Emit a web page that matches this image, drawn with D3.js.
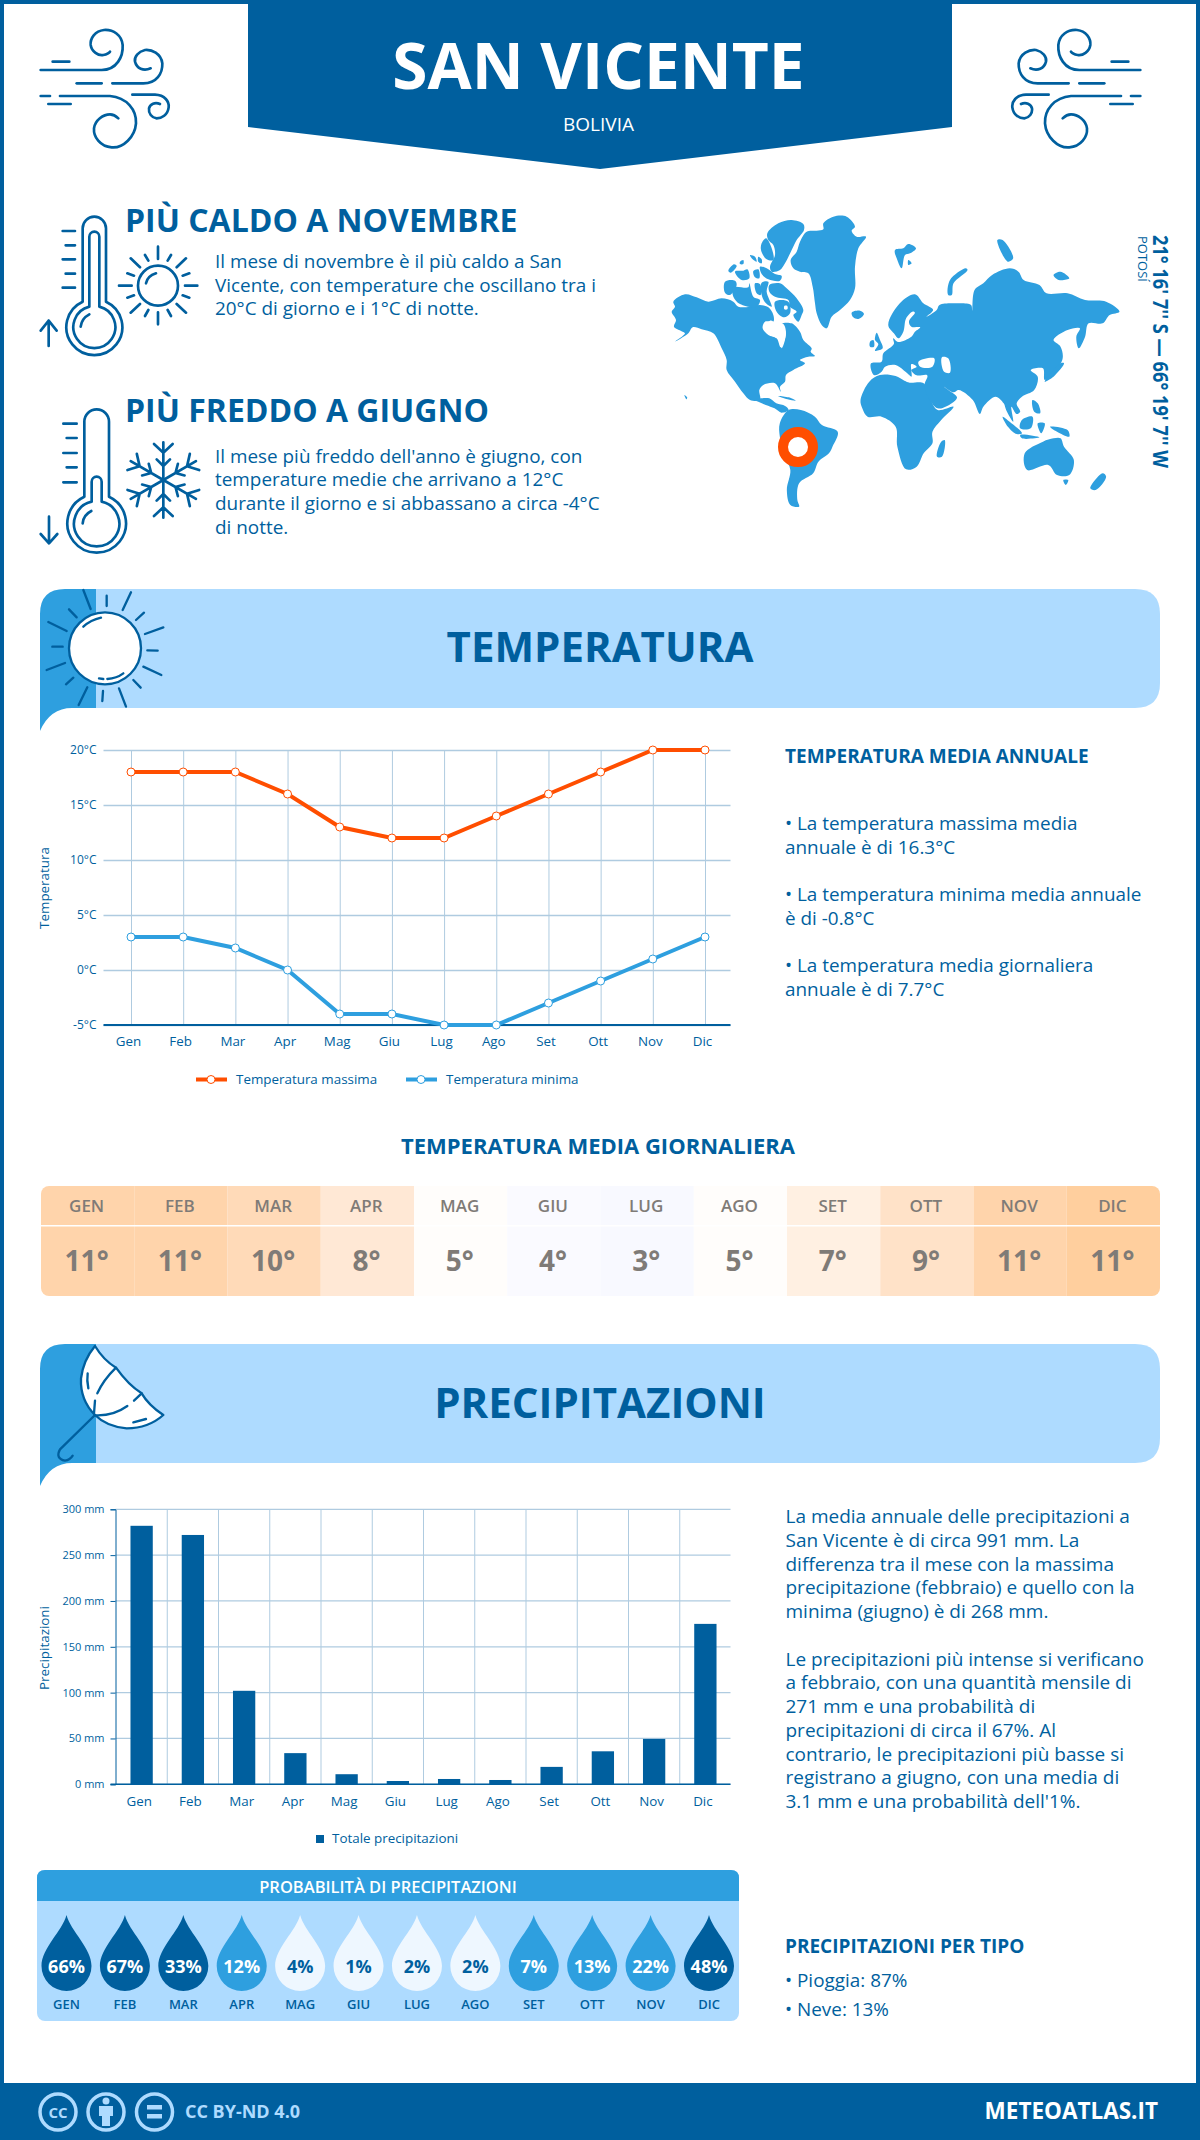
<!DOCTYPE html>
<html>
<head>
<meta charset="utf-8">
<script src="https://cdn.jsdelivr.net/npm/d3@7"></script>
<style>
  body { margin: 0; background: #fff; }
  text { font-family: "Open Sans", sans-serif; }
</style>
</head>
<body>
<div id="chart"></div>
<script>
var months = ["Gen", "Feb", "Mar", "Apr", "Mag", "Giu", "Lug", "Ago", "Set", "Ott", "Nov", "Dic"];
var tempMax = [18, 18, 18, 16, 13, 12, 12, 14, 16, 18, 20, 20];
var tempMin = [3, 3, 2, 0, -4, -4, -5, -5, -3, -1, 1, 3];
var tempTicks = [-5, 0, 5, 10, 15, 20];
var dailyLabels = [11, 11, 10, 8, 5, 4, 3, 5, 7, 9, 11, 11];
var rainTotal = [282, 272, 102, 34, 11, 3.6, 5.8, 4.7, 19, 36, 49.5, 175];
var rainTicks = [0, 50, 100, 150, 200, 250, 300];
var rainProb = [66, 67, 33, 12, 4, 1, 2, 2, 7, 13, 22, 48];

var hotText = ["Il mese di novembre è il più caldo a San", "Vicente, con temperature che oscillano tra i", "20°C di giorno e i 1°C di notte."];
var coldText = ["Il mese più freddo dell'anno è giugno, con", "temperature medie che arrivano a 12°C", "durante il giorno e si abbassano a circa -4°C", "di notte."];
var tempNotes = [
  ["• La temperatura massima media", "annuale è di 16.3°C"],
  ["• La temperatura minima media annuale", "è di -0.8°C"],
  ["• La temperatura media giornaliera", "annuale è di 7.7°C"]
];
var rainNotes = [
  "La media annuale delle precipitazioni a", "San Vicente è di circa 991 mm. La", "differenza tra il mese con la massima",
  "precipitazione (febbraio) e quello con la", "minima (giugno) è di 268 mm.", "",
  "Le precipitazioni più intense si verificano", "a febbraio, con una quantità mensile di", "271 mm e una probabilità di",
  "precipitazioni di circa il 67%. Al", "contrario, le precipitazioni più basse si", "registrano a giugno, con una media di",
  "3.1 mm e una probabilità dell'1%."
];

// colours
var deep = "#005f9e", mid = "#2e9fdf", light = "#aedbff", orange = "#ff4e00", grid = "#afcbe0";

var svg = d3.select("#chart").append("svg")
  .attr("width", 1200)
  .attr("height", 2140)
  .style("display", "block");

function label(parent, x, y, str, size, weight, fill, anchor) {
  return parent.append("text")
    .attr("x", x).attr("y", y)
    .attr("font-size", size)
    .attr("font-weight", weight || 400)
    .attr("fill", fill || deep)
    .attr("text-anchor", anchor || "start")
    .text(str);
}

function lines(parent, x, y, rows, size, step) {
  rows.forEach((r, i) => label(parent, x, y + i * step, r, size));
}

function icon(tx, ty, sx, sy) {
  return svg.append("g")
    .attr("transform", `translate(${tx},${ty}) scale(${sx},${sy === undefined ? sx : sy})`)
    .attr("fill", "none")
    .attr("stroke", deep)
    .attr("stroke-linecap", "round")
    .attr("stroke-linejoin", "round");
}

// ---- frame and header ----
svg.append("rect").attr("x", 2).attr("y", 2).attr("width", 1196).attr("height", 2136)
  .attr("fill", "none").attr("stroke", deep).attr("stroke-width", 4);
svg.append("path").attr("d", "M248,0H952V127L600,169L248,127Z").attr("fill", deep);
label(svg, 598.5, 89, "SAN VICENTE", 64, 700, "#fff", "middle");
label(svg, 598.5, 131, "BOLIVIA", 19, 400, "#fff", "middle");

function wind(g) {
  g.attr("stroke-width", 8);
  ["M68,125H118",
   "M32,150H215C260,150 280,110 278,75C275,45 250,28 222,30C195,33 180,55 182,75C185,95 205,108 220,105C230,103 238,98 240,95",
   "M140,190H215",
   "M247,190H340C380,190 398,160 397,130C393,100 365,88 345,90C325,95 312,110 315,125C320,145 340,155 362,145",
   "M32,228H60",
   "M90,228H240C290,232 320,270 318,310C315,350 280,385 245,382C210,380 190,350 192,325C195,300 220,283 240,283C250,283 260,290 265,295",
   "M55,252H122",
   "M307,224H375C405,225 418,245 416,262C413,285 395,295 380,295C365,293 355,280 357,265C360,252 375,245 390,252"
  ].forEach(d => g.append("path").attr("d", d));
}
wind(icon(30, 20, 1 / 3));
wind(icon(1151, 20, -1 / 3, 1 / 3));

// ---- hot and cold blocks ----
label(svg, 125, 232, "PIÙ CALDO A NOVEMBRE", 32, 700);
lines(svg, 215, 268, hotText, 18.9, 23.7);
label(svg, 125, 422, "PIÙ FREDDO A GIUGNO", 32, 700);
lines(svg, 215, 462.5, coldText, 18.9, 23.7);

var ic = icon(20, 190, 1 / 3).attr("stroke-width", 8);
["M188,335V115A35,35 0 0 1 258,115V335A84,84 0 1 1 188,335",
 "M208,350V140A15,15 0 0 1 238,140V350A63,63 0 1 1 208,350",
 "M182,410Q185,385 208,373",
 "M128,123H165M137,166H165M128,208H165M137,251H165M128,293H165",
 "M86,468V392M62,422L86,392L110,422",
 "M414,170V207M414,367V403M495,287H532M297,287H335M332,205L360,232M498,205L470,232M332,368L360,342M498,368L470,342",
 "M375,195L385,212M453,195L443,212M375,378L385,360M453,378L443,360M322,250L342,257M508,250L488,257M322,323L342,316M508,323L488,316",
 "M378,280Q382,258 408,250",
 "M193,920V695A37,37 0 0 1 267,695V920A88,88 0 1 1 193,920",
 "M215,935V875A15,15 0 0 1 245,875V935A68,68 0 1 1 215,935",
 "M188,1000Q190,975 214,963",
 "M130,701H170M140,744H170M130,789H170M140,832H170M130,877H170",
 "M87,980V1060M62,1032L87,1060L112,1032"
].forEach(d => ic.append("path").attr("d", d));
ic.append("circle").attr("cx", 414).attr("cy", 287).attr("r", 60);
d3.range(6).forEach(i => {
  ic.append("path")
    .attr("transform", `translate(430,870) rotate(${i * 60})`)
    .attr("d", "M0,0V-113M-28,-108L0,-82L28,-108M-20,-62L0,-42L20,-62");
});

// ---- world map, traced outlines ----
// north part traced at 3x from (660,200)
var mapNorth = [
  [[35,335],[45,320],[40,305],[75,283],[110,292],[145,305],[185,295],[220,305],[235,320],[270,320],[300,315],[325,322],[340,345],[340,365],[315,365],[308,385],[325,405],[350,415],[362,442],[372,425],[377,395],[365,372],[395,370],[420,395],[430,420],[455,445],[452,455],[465,468],[445,470],[420,480],[435,490],[400,510],[378,525],[375,545],[360,560],[362,575],[345,550],[310,555],[298,570],[300,600],[270,600],[250,580],[225,545],[200,510],[200,480],[185,445],[160,400],[125,388],[98,382],[85,400],[45,425],[75,400],[62,392],[42,380],[48,360]],
  [[322,100],[355,70],[395,60],[430,72],[432,90],[410,120],[395,150],[375,190],[360,210],[335,215],[330,200],[345,165],[340,135],[325,120]],
  [[305,130],[318,115],[335,145],[340,180],[320,178],[303,150]],
  [[205,212],[222,193],[230,198],[212,218]],
  [[240,185],[250,180],[250,192],[240,192]],
  [[225,215],[250,212],[262,208],[268,235],[245,240]],
  [[270,165],[285,170],[290,185],[278,178]],
  [[295,170],[305,178],[305,190],[295,185]],
  [[280,213],[295,208],[298,235],[285,232]],
  [[300,200],[320,205],[345,222],[365,228],[360,242],[325,238],[305,222]],
  [[195,245],[225,242],[230,255],[210,285],[195,278]],
  [[220,262],[265,262],[268,250],[280,290],[300,300],[290,320],[240,312],[220,290]],
  [[285,250],[300,252],[302,285],[290,280]],
  [[305,248],[325,245],[320,275],[335,320],[318,310],[305,285]],
  [[328,255],[360,250],[380,265],[410,295],[430,330],[425,345],[415,365],[400,345],[410,335],[390,320],[385,300],[345,290],[328,275]],
  [[345,305],[385,305],[390,340],[372,352],[350,335]],
  [[392,180],[410,155],[420,125],[440,95],[470,92],[490,88],[490,70],[520,50],[560,50],[585,80],[575,92],[590,110],[618,110],[595,145],[585,200],[585,265],[570,300],[540,330],[515,350],[500,385],[485,375],[470,340],[465,310],[458,260],[445,220],[420,215],[400,205]],
  [[575,338],[600,332],[612,342],[595,357],[580,352]],
  [[705,150],[730,145],[745,132],[768,145],[750,160],[735,165],[725,205],[712,180]],
  [[745,180],[755,190],[745,195]],
  [[650,398],[660,420],[668,445],[645,452],[655,432],[645,420]],
  [[630,425],[640,420],[642,440],[630,440]]
];
var mapNorthWater = [
  [[310,385],[330,362],[350,370],[370,372],[378,400],[365,445],[358,420],[330,405]],
  [[373,318],[382,318],[382,328],[373,328]]
];
// the rest is traced from (650,190), 2.85x wide and 3x high
var mapSouth = [
  [[285,628],[313,626],[318,625],[340,625],[360,640],[385,648],[395,660],[375,668],[355,655],[330,645],[295,630]],
  [[365,618],[395,622],[415,632],[392,628]],
  [[98,615],[106,622],[104,628]],
  [[370,700],[395,660],[430,660],[470,680],[490,705],[535,725],[520,770],[510,790],[480,815],[465,850],[425,880],[420,930],[425,950],[400,945],[390,900],[400,840],[385,800],[370,740]],
  [[600,630],[625,575],[655,555],[700,558],[725,572],[740,578],[780,580],[800,630],[820,660],[865,650],[830,690],[805,725],[805,760],[780,790],[760,830],[730,838],[705,770],[700,710],[660,680],[620,680],[605,655]],
  [[632,545],[630,520],[660,515],[665,490],[695,462],[693,445],[707,456],[745,440],[755,425],[770,412],[745,410],[738,395],[755,368],[748,365],[730,385],[722,425],[708,445],[695,430],[679,405],[712,340],[755,313],[779,340],[807,360],[788,380],[817,360],[825,345],[870,340],[915,345],[918,362],[925,300],[950,280],[975,255],[1025,235],[1050,245],[1065,270],[1110,285],[1130,310],[1190,310],[1240,330],[1300,335],[1338,365],[1310,375],[1290,400],[1250,400],[1240,440],[1222,475],[1215,440],[1225,415],[1190,420],[1150,450],[1170,470],[1175,510],[1125,570],[1120,535],[1085,540],[1105,560],[1095,600],[1060,620],[1045,640],[1055,665],[1045,672],[1030,650],[1035,695],[1015,660],[1008,640],[985,620],[950,650],[940,672],[920,630],[880,600],[865,607],[838,590],[850,600],[875,622],[860,640],[820,655],[782,590],[790,556],[760,556],[745,540],[760,530],[745,522],[745,560],[725,535],[705,508],[740,555],[700,525],[670,530],[660,545],[640,556]],
  [[1125,575],[1170,520],[1180,520],[1150,560]],
  [[1005,680],[1025,695],[1060,730],[1045,732],[1020,710]],
  [[1060,690],[1090,680],[1085,715],[1055,715]],
  [[1055,735],[1110,742],[1060,745]],
  [[1105,700],[1125,700],[1115,730]],
  [[1140,710],[1190,720],[1195,740],[1160,725]],
  [[1090,630],[1105,640],[1112,670],[1095,665]],
  [[1068,790],[1120,755],[1150,745],[1170,745],[1180,770],[1208,810],[1195,855],[1160,855],[1135,825],[1075,840]],
  [[830,755],[840,750],[832,800],[818,800]],
  [[1290,850],[1300,860],[1270,900],[1255,895]],
  [[1178,870],[1192,870],[1185,885]],
  [[850,315],[855,270],[900,235],[905,240],[865,280],[860,315]],
  [[990,150],[1005,150],[1035,205],[1020,215]],
  [[1150,255],[1170,245],[1195,265],[1165,270]]
];
var mapSouthWater = [
  [[765,515],[810,505],[805,530],[770,530]],
  [[832,502],[850,505],[855,548],[838,545]]
];
var mapLine = d3.line().curve(d3.curveCatmullRomClosed.alpha(0.5));
function drawMap(tf, land, water) {
  var g = svg.append("g").attr("transform", tf);
  land.forEach(p => g.append("path").attr("d", mapLine(p)).attr("fill", mid));
  water.forEach(p => g.append("path").attr("d", mapLine(p)).attr("fill", "#fff"));
}
drawMap(`translate(650,190) scale(${1 / 2.85},${1 / 3})`, mapSouth, mapSouthWater);
drawMap(`translate(660,200) scale(${1 / 3})`, mapNorth, mapNorthWater);

svg.append("circle").attr("cx", 798).attr("cy", 447).attr("r", 15)
  .attr("fill", "#fff").attr("stroke", orange).attr("stroke-width", 10);
label(svg, 0, 0, "21° 16' 7'' S — 66° 19' 7'' W", 21.5, 700)
  .attr("transform", "translate(1153,235) rotate(90)")
  .attr("textLength", 233)
  .attr("lengthAdjust", "spacingAndGlyphs");
label(svg, 0, 0, "POTOSÍ", 13, 400)
  .attr("transform", "translate(1138,236) rotate(90)");

// ---- section bands ----
function band(top, title, base) {
  svg.append("path")
    .attr("d", `M96,${top}H1135Q1160,${top} 1160,${top + 25}V${top + 94}Q1160,${top + 119} 1135,${top + 119}H96Z`)
    .attr("fill", light);
  svg.append("path")
    .attr("d", `M40,${top + 142}V${top + 25}Q40,${top} 65,${top}H96V${top + 119}H72Q50,${top + 119} 40,${top + 142}Z`)
    .attr("fill", mid);
  label(svg, 600, base, title, 42, 700, deep, "middle");
}
band(589, "TEMPERATURA", 662);
band(1344, "PRECIPITAZIONI", 1418);

var sun = icon(20, 580, 1 / 3).attr("stroke-width", 7);
sun.append("circle").attr("cx", 255).attr("cy", 205).attr("r", 108).attr("fill", "#fff");
["M190,30L212,87M260,47V78M333,37L308,90M372,98L348,120M430,142L375,162M413,212L382,211M424,285L370,260M362,323L340,300",
 "M318,380L297,325M247,363L249,333M176,375L202,322M138,313L160,293M80,270L135,249M97,200H128M85,126L140,153M147,88L170,112",
 "M190,140Q212,120 243,113M262,297Q290,295 310,280M237,295L250,297"
].forEach(d => sun.append("path").attr("d", d));

var umb = icon(20, 1330, 1 / 3).attr("stroke-width", 7);
umb.append("path").attr("fill", "#fff")
  .attr("d", "M225,48Q250,90 288,113Q325,165 365,190Q385,225 430,255Q385,295 320,295Q260,290 225,255Q180,210 183,145Q190,90 225,48Z");
["M225,255L120,358Q105,385 135,392Q150,390 158,377",
 "M288,113Q250,150 232,190M225,212L222,250",
 "M228,256Q280,258 322,228M342,212L365,190",
 "M203,130Q200,150 205,175M340,277L378,267"
].forEach(d => umb.append("path").attr("d", d));

// ---- temperature chart ----
var tx = d3.scalePoint().domain(months).range([131, 705]);
var ty = d3.scaleLinear().domain([-5, 20]).range([1025, 750]);

var tGrid = svg.append("g").attr("transform", "translate(0,1025)")
  .call(d3.axisBottom(tx).tickSize(-275).tickPadding(11));
tGrid.select(".domain").remove();
tGrid.selectAll("line").attr("stroke", grid);
tGrid.selectAll("text").attr("font-size", 13.4).attr("fill", deep).attr("dx", -3)
  .style("font-family", '"Open Sans", sans-serif');

var tYAxis = svg.append("g").attr("transform", "translate(103.5,0)")
  .call(d3.axisLeft(ty).tickValues(tempTicks).tickSize(-627).tickPadding(7).tickFormat(d => d + "°C"));
tYAxis.select(".domain").remove();
tYAxis.selectAll("line").attr("stroke", grid).attr("stroke-width", 1.3);
tYAxis.selectAll("text").attr("font-size", 12).attr("fill", deep)
  .style("font-family", '"Open Sans", sans-serif');
svg.append("line").attr("x1", 103.5).attr("x2", 730.5).attr("y1", ty(-5)).attr("y2", ty(-5))
  .attr("stroke", deep).attr("stroke-width", 2);

label(svg, 0, 0, "Temperatura", 13.4, 400, deep, "middle")
  .attr("transform", "translate(49,888) rotate(-90)");

function series(values, color) {
  var line = d3.line().x((d, i) => tx(months[i])).y(d => ty(d));
  svg.append("path").datum(values).attr("d", line)
    .attr("fill", "none").attr("stroke", color).attr("stroke-width", 4);
  svg.selectAll(null).data(values).enter().append("circle")
    .attr("cx", (d, i) => tx(months[i]))
    .attr("cy", d => ty(d))
    .attr("r", 4)
    .attr("fill", "#fff").attr("stroke", color).attr("stroke-width", 1);
}
series(tempMax, orange);
series(tempMin, mid);

function legendLine(x, text, color) {
  svg.append("line").attr("x1", x).attr("x2", x + 31).attr("y1", 1079.5).attr("y2", 1079.5)
    .attr("stroke", color).attr("stroke-width", 4);
  svg.append("circle").attr("cx", x + 15).attr("cy", 1079.5).attr("r", 4)
    .attr("fill", "#fff").attr("stroke", color);
  label(svg, x + 40, 1084, text, 13.4);
}
legendLine(196, "Temperatura massima", orange);
legendLine(406, "Temperatura minima", mid);

label(svg, 785, 763, "TEMPERATURA MEDIA ANNUALE", 19, 700);
tempNotes.forEach((rows, i) => lines(svg, 785, 830 + i * 71, rows, 18.9, 24));

// ---- daily mean table ----
label(svg, 598, 1154, "TEMPERATURA MEDIA GIORNALIERA", 22, 700, deep, "middle");
var dailyMean = tempMax.map((d, i) => (d + tempMin[i]) / 2);
var heat = d3.scaleLinear()
  .domain([3.5, 4, 4.5, 6.5, 8, 8.5, 10, 10.5, 11.5])
  .range(["#f8f9ff", "#fafaff", "#fffdfb", "#fff0e2", "#ffe8d5", "#ffe2c8", "#ffdab8", "#ffd4ab", "#ffcf9e"]);
var cellX = d3.scaleBand().domain(months).range([41, 1160]);
svg.append("clipPath").attr("id", "tableClip").append("rect")
  .attr("x", 41).attr("y", 1186).attr("width", 1119).attr("height", 110).attr("rx", 8);
var table = svg.append("g").attr("clip-path", "url(#tableClip)");
table.selectAll("rect").data(months).enter().append("rect")
  .attr("x", d => cellX(d))
  .attr("y", 1186)
  .attr("width", cellX.bandwidth())
  .attr("height", 110)
  .attr("fill", (d, i) => heat(dailyMean[i]));
table.append("rect").attr("x", 41).attr("y", 1225).attr("width", 1119).attr("height", 1.5).attr("fill", "#fff");
months.forEach((m, i) => {
  var cx = cellX(m) + cellX.bandwidth() / 2 - 1;
  label(svg, cx, 1212, m.toUpperCase(), 17, 600, "#7f7b77", "middle");
  label(svg, cx, 1271, dailyLabels[i] + "°", 28, 700, "#7f7b77", "middle");
});

// ---- precipitation chart ----
var barPad = 0.565;
var rx = d3.scaleBand().domain(months).range([116, 731]).paddingInner(barPad).paddingOuter(barPad / 2);
var ry = d3.scaleLinear().domain([0, 300]).range([1784.3, 1509.3]);

svg.selectAll(null).data(months.slice(1)).enter().append("line")
  .attr("x1", d => rx(d) - rx.step() * barPad / 2)
  .attr("x2", d => rx(d) - rx.step() * barPad / 2)
  .attr("y1", ry(0)).attr("y2", ry(300))
  .attr("stroke", grid);
svg.selectAll(null).data(rainTicks).enter().append("line")
  .attr("x1", 115.5).attr("x2", 730.5)
  .attr("y1", d => ry(d)).attr("y2", d => ry(d))
  .attr("stroke", grid).attr("stroke-width", 1.3);

svg.selectAll(null).data(rainTotal).enter().append("rect")
  .attr("x", (d, i) => rx(months[i]))
  .attr("y", d => ry(d))
  .attr("width", rx.bandwidth())
  .attr("height", d => ry(0) - ry(d))
  .attr("fill", deep);

var rY = svg.append("g").attr("transform", "translate(115.5,0)")
  .call(d3.axisLeft(ry).tickValues(rainTicks).tickSize(5).tickPadding(6).tickFormat(d => d + " mm"));
rY.selectAll("path,line").attr("stroke", deep);
rY.selectAll("text").attr("font-size", 11).attr("fill", deep)
  .style("font-family", '"Open Sans", sans-serif');
var rX = svg.append("g").attr("transform", `translate(-2.5,${ry(0)})`)
  .call(d3.axisBottom(rx).tickSize(0).tickPadding(12));
rX.select(".domain").remove();
rX.selectAll("text").attr("font-size", 13.4).attr("fill", deep)
  .style("font-family", '"Open Sans", sans-serif');
svg.append("line").attr("x1", 110.5).attr("x2", 730.5).attr("y1", ry(0)).attr("y2", ry(0))
  .attr("stroke", deep).attr("stroke-width", 1.5);

label(svg, 0, 0, "Precipitazioni", 13.4, 400, deep, "middle")
  .attr("transform", "translate(49,1648) rotate(-90)");
svg.append("rect").attr("x", 316).attr("y", 1835).attr("width", 8).attr("height", 8).attr("fill", deep);
label(svg, 332, 1843, "Totale precipitazioni", 13.4);

lines(svg, 785.5, 1523, rainNotes, 19, 23.75);

// ---- probability panel ----
svg.append("rect").attr("x", 37).attr("y", 1870).attr("width", 702).attr("height", 151).attr("rx", 8).attr("fill", light);
svg.append("path").attr("d", "M37,1901V1878Q37,1870 45,1870H731Q739,1870 739,1878V1901Z").attr("fill", mid);
label(svg, 388, 1893, "PROBABILITÀ DI PRECIPITAZIONI", 16.5, 600, "#fff", "middle");

var probX = d3.scalePoint().domain(months).range([66.5, 709]);
var probFill = d3.scaleThreshold().domain([5, 25]).range(["#eef7ff", mid, deep]);
var probText = d3.scaleThreshold().domain([5]).range([deep, "#fff"]);
var drop = svg.selectAll(".drop").data(rainProb).enter().append("g")
  .attr("class", "drop")
  .attr("transform", (d, i) => `translate(${probX(months[i])},1966)`);
drop.append("path")
  .attr("d", "M0,-51C4,-35 25,-18 25,0A25,25 0 0 1 -25,0C-25,-18 -4,-35 0,-51Z")
  .attr("fill", d => probFill(d));
drop.append("text")
  .attr("y", 7).attr("text-anchor", "middle")
  .attr("font-size", 18).attr("font-weight", 700)
  .attr("fill", d => probText(d))
  .text(d => d + "%");
drop.append("text")
  .attr("y", 43).attr("text-anchor", "middle")
  .attr("font-size", 13).attr("font-weight", 600).attr("fill", deep)
  .text((d, i) => months[i].toUpperCase());

label(svg, 785, 1953, "PRECIPITAZIONI PER TIPO", 19, 700);
lines(svg, 785, 1987, ["• Pioggia: 87%", "• Neve: 13%"], 18.9, 29);

// ---- footer ----
svg.append("rect").attr("x", 0).attr("y", 2083).attr("width", 1200).attr("height", 57).attr("fill", deep);
[58, 106, 154.5].forEach(cx => {
  svg.append("circle").attr("cx", cx).attr("cy", 2112).attr("r", 18)
    .attr("fill", "none").attr("stroke", light).attr("stroke-width", 3.5);
});
label(svg, 58, 2117.5, "CC", 15, 700, light, "middle");
svg.append("circle").attr("cx", 106).attr("cy", 2101).attr("r", 3.5).attr("fill", light);
svg.append("path").attr("d", "M99,2106H113V2116H110V2126H102V2116H99Z").attr("fill", light);
svg.append("rect").attr("x", 147).attr("y", 2105).attr("width", 15).attr("height", 4.5).attr("fill", light);
svg.append("rect").attr("x", 147).attr("y", 2114).attr("width", 15).attr("height", 4.5).attr("fill", light);
label(svg, 185, 2118, "CC BY-ND 4.0", 18, 700, light);
label(svg, 1158, 2119, "METEOATLAS.IT", 22.5, 700, "#fff", "end");
</script>
</body>
</html>
